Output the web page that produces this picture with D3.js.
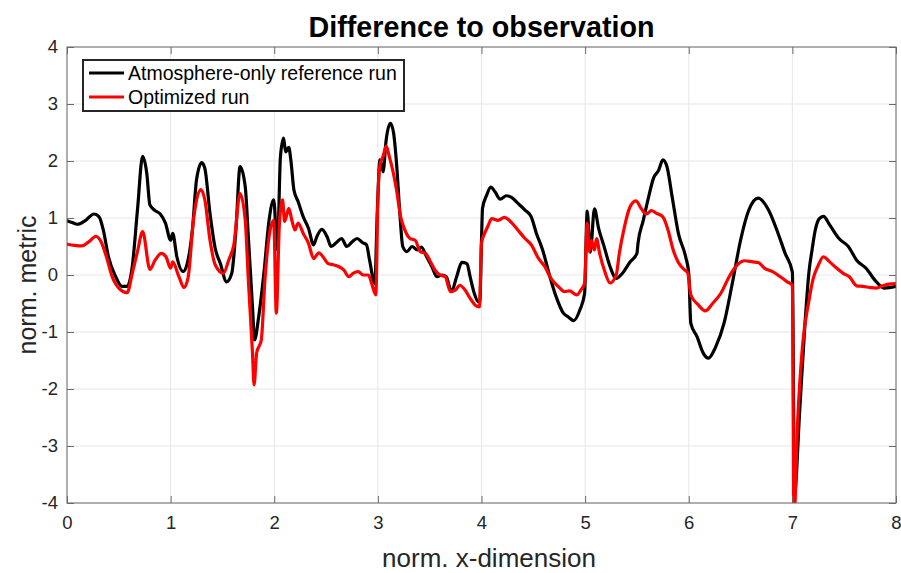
<!DOCTYPE html>
<html>
<head>
<meta charset="utf-8">
<script src="https://cdn.jsdelivr.net/npm/d3@7"></script>
<style>
  body { margin: 0; background: #fff; }
  svg { display: block; font-family: "Liberation Sans", Arial, Helvetica, sans-serif; }
</style>
</head>
<body>
<svg id="canvas"></svg>
<script>
// reference run (black)
let refX = [0.0, 0.05, 0.10, 0.18, 0.26, 0.31, 0.35, 0.40, 0.47, 0.53, 0.58, 0.63, 0.68, 0.73, 0.77, 0.80, 0.85, 0.90, 0.95,
  1.00, 1.02, 1.06, 1.12, 1.16, 1.21, 1.25, 1.30, 1.33, 1.38, 1.43, 1.48, 1.54, 1.59, 1.63, 1.67, 1.72, 1.75, 1.79, 1.81, 1.85, 1.90, 1.95, 1.995,
  2.03, 2.06, 2.09, 2.11, 2.14, 2.16, 2.19, 2.23, 2.28, 2.33, 2.38, 2.41, 2.46, 2.51, 2.55, 2.60, 2.65, 2.70, 2.75, 2.80, 2.85, 2.89, 2.92, 2.97, 2.995,
  3.02, 3.05, 3.08, 3.12, 3.15, 3.18, 3.21, 3.24, 3.28, 3.33, 3.38, 3.42, 3.47, 3.52, 3.57, 3.62, 3.66, 3.71, 3.76, 3.81, 3.86, 3.89, 3.93, 3.97, 3.985,
  4.00, 4.01, 4.05, 4.09, 4.13, 4.18, 4.24, 4.29, 4.35, 4.42, 4.48, 4.53, 4.59, 4.66, 4.72, 4.79, 4.84, 4.89, 4.95, 4.995,
  5.02, 5.05, 5.09, 5.13, 5.18, 5.24, 5.30, 5.36, 5.43, 5.50, 5.51, 5.56, 5.61, 5.66, 5.71, 5.75, 5.79, 5.84, 5.90, 5.97,
  6.00, 6.02, 6.08, 6.14, 6.19, 6.26, 6.34, 6.42, 6.50, 6.58, 6.67, 6.77, 6.85, 6.93,
  7.00, 7.02, 7.07, 7.12, 7.16, 7.19, 7.22, 7.26, 7.30, 7.36, 7.45, 7.54, 7.62, 7.71, 7.81, 7.89, 8.00]
let refY = [0.95, 0.92, 0.89, 0.96, 1.07, 1.02, 0.79, 0.32, -0.03, -0.20, -0.20, 0.15, 1.14, 2.08, 1.78, 1.23, 1.13, 1.07, 0.91,
  0.61, 0.73, 0.32, 0.06, 0.20, 0.79, 1.67, 1.97, 1.87, 1.08, 0.47, 0.20, -0.12, 0.03, 0.79, 1.90, 1.55, 0.67, -0.56, -1.14, -0.73, 0.03, 0.96, 1.32,
  0.44, 2.08, 2.40, 2.16, 2.24, 2.02, 1.49, 1.29, 1.02, 0.82, 0.53, 0.67, 0.80, 0.67, 0.50, 0.57, 0.64, 0.50, 0.58, 0.64, 0.57, 0.53, 0.26, -0.15, 1.14,
  2.02, 1.81, 2.37, 2.66, 2.51, 1.96, 1.14, 0.50, 0.41, 0.50, 0.44, 0.49, 0.32, 0.15, -0.03, 0.00, -0.03, -0.29, -0.03, 0.22, 0.20, -0.03, -0.32, -0.47, -0.45,
  0.60, 1.17, 1.40, 1.54, 1.46, 1.33, 1.39, 1.36, 1.26, 1.14, 1.02, 0.73, 0.44, -0.03, -0.38, -0.67, -0.74, -0.80, -0.61, -0.32,
  1.12, 0.40, 1.16, 0.82, 0.52, 0.15, -0.06, 0.03, 0.22, 0.38, 0.55, 0.95, 1.35, 1.70, 1.84, 2.02, 1.90, 1.37, 0.73, 0.32,
  0.03, -0.85, -1.08, -1.37, -1.46, -1.26, -0.85, -0.15, 0.61, 1.14, 1.35, 1.14, 0.79, 0.38,
  0.05, -3.85, -2.40, -0.90, 0.05, 0.44, 0.78, 0.99, 1.03, 0.88, 0.64, 0.50, 0.26, 0.12, -0.12, -0.23, -0.20]

// optimized run (red)
let optX = [0.0, 0.07, 0.145, 0.21, 0.28, 0.33, 0.39, 0.43, 0.50, 0.58, 0.63, 0.68, 0.73, 0.80, 0.85, 0.91, 0.955,
  1.00, 1.02, 1.08, 1.13, 1.17, 1.22, 1.29, 1.33, 1.38, 1.43, 1.51, 1.56, 1.61, 1.67, 1.72, 1.75, 1.79, 1.805, 1.83, 1.875, 1.91, 1.96, 1.995,
  2.02, 2.05, 2.08, 2.10, 2.14, 2.17, 2.20, 2.23, 2.28, 2.33, 2.38, 2.43, 2.47, 2.52, 2.57, 2.62, 2.67, 2.72, 2.76, 2.81, 2.86, 2.91, 2.94, 2.98,
  3.00, 3.02, 3.05, 3.08, 3.11, 3.15, 3.18, 3.22, 3.26, 3.31, 3.36, 3.41, 3.46, 3.50, 3.55, 3.60, 3.65, 3.70, 3.75, 3.79, 3.84, 3.89, 3.94, 3.98,
  4.00, 4.03, 4.06, 4.10, 4.16, 4.22, 4.29, 4.35, 4.42, 4.48, 4.55, 4.61, 4.67, 4.74, 4.80, 4.85, 4.92, 4.96, 4.995,
  5.02, 5.04, 5.06, 5.09, 5.11, 5.14, 5.19, 5.24, 5.30, 5.33, 5.38, 5.43, 5.49, 5.54, 5.59, 5.64, 5.69, 5.75, 5.80, 5.85, 5.90, 5.96, 5.99,
  6.02, 6.09, 6.16, 6.23, 6.31, 6.39, 6.47, 6.54, 6.62, 6.67, 6.73, 6.81, 6.89, 6.95,
  7.00, 7.015, 7.05, 7.10, 7.16, 7.20, 7.25, 7.30, 7.36, 7.42, 7.49, 7.55, 7.62, 7.68, 7.75, 7.81, 7.87, 7.93, 8.00]
let optY = [0.54, 0.52, 0.51, 0.58, 0.68, 0.58, 0.26, 0.00, -0.23, -0.31, 0.03, 0.41, 0.76, 0.10, 0.26, 0.38, 0.32,
  0.12, 0.23, -0.03, -0.22, -0.03, 0.96, 1.50, 1.32, 0.61, 0.18, 0.03, 0.26, 0.53, 1.43, 0.96, -0.09, -1.37, -1.93, -1.37, -1.14, -0.09, 0.79, 0.96,
  -0.67, 0.91, 1.32, 0.94, 1.17, 0.96, 0.79, 0.91, 0.73, 0.56, 0.29, 0.39, 0.32, 0.20, 0.18, 0.15, 0.09, -0.03, 0.03, 0.06, 0.00, 0.00, -0.15, -0.35,
  1.32, 1.93, 2.08, 2.26, 2.08, 1.78, 1.49, 1.02, 0.79, 0.64, 0.61, 0.41, 0.38, 0.26, 0.09, 0.00, -0.03, -0.29, -0.26, -0.18, -0.26, -0.41, -0.53, -0.56,
  0.56, 0.73, 0.85, 0.99, 0.96, 1.01, 0.92, 0.79, 0.64, 0.53, 0.29, 0.15, -0.06, -0.20, -0.29, -0.28, -0.35, -0.26, -0.15,
  0.91, 0.41, 0.61, 0.44, 0.64, 0.38, 0.06, -0.14, 0.00, 0.38, 0.85, 1.18, 1.30, 1.17, 1.07, 1.13, 1.08, 1.02, 0.79, 0.44, 0.22, 0.09, 0.04,
  -0.35, -0.52, -0.63, -0.50, -0.32, -0.03, 0.18, 0.25, 0.23, 0.22, 0.12, 0.06, -0.04, -0.12,
  -0.18, -4.30, -2.60, -1.20, -0.45, -0.07, 0.17, 0.32, 0.23, 0.13, 0.03, -0.03, -0.19, -0.20, -0.22, -0.23, -0.19, -0.16, -0.15]

let xTicks = [0, 1, 2, 3, 4, 5, 6, 7, 8]
let yTicks = [-4, -3, -2, -1, 0, 1, 2, 3, 4]
let seriesNames = ['Atmosphere-only reference run', 'Optimized run']
let seriesColors = ['#000000', '#ff0000']

let width = 901
let height = 573
let plotLeft = 67
let plotRight = 896
let plotTop = 47
let plotBottom = 503

let canvas = d3.select('#canvas')
canvas.attr('width', width).attr('height', height)

let xScale = d3.scaleLinear().domain([0, 8]).range([plotLeft, plotRight])
let yScale = d3.scaleLinear().domain([-4, 4]).range([plotBottom, plotTop])

let axisColor = '#6b6b6b'
let textColor = '#262626'

// plain hyphen minus, like the original tick labels
let tickText = d => String(d)

let drawGrid = () => {
    let grid = canvas.append('g').attr('class', 'grid')
    grid.selectAll('.gx').data(xTicks).enter().append('line')
        .attr('x1', d => xScale(d)).attr('x2', d => xScale(d))
        .attr('y1', plotTop).attr('y2', plotBottom)
        .attr('stroke', '#e6e6e6').attr('stroke-width', 1)
    grid.selectAll('.gy').data(yTicks).enter().append('line')
        .attr('y1', d => yScale(d)).attr('y2', d => yScale(d))
        .attr('x1', plotLeft).attr('x2', plotRight)
        .attr('stroke', '#e6e6e6').attr('stroke-width', 1)
}

let drawLines = () => {
    canvas.append('clipPath').attr('id', 'plot-clip')
        .append('rect')
        .attr('x', plotLeft).attr('y', plotTop)
        .attr('width', plotRight - plotLeft).attr('height', plotBottom - plotTop)

    let line = d3.line()
        .x(d => xScale(d[0]))
        .y(d => yScale(d[1]))
        .curve(d3.curveMonotoneX)

    let series = [
        d3.zip(refX, refY),
        d3.zip(optX, optY)
    ]

    canvas.append('g')
        .attr('clip-path', 'url(#plot-clip)')
        .selectAll('path')
        .data(series)
        .enter()
        .append('path')
        .attr('d', d => line(d))
        .attr('fill', 'none')
        .attr('stroke', (d, i) => seriesColors[i])
        .attr('stroke-width', 3.2)
        .attr('stroke-linejoin', 'round')
        .attr('stroke-linecap', 'round')
}

let drawAxes = () => {
    let xAxis = d3.axisBottom(xScale)
        .tickValues(xTicks)
        .tickFormat(tickText)
        .tickSizeInner(-7)
        .tickSizeOuter(0)
        .tickPadding(13)
    let yAxis = d3.axisLeft(yScale)
        .tickValues(yTicks)
        .tickFormat(tickText)
        .tickSizeInner(-7)
        .tickSizeOuter(0)
        .tickPadding(9)
    let xTop = d3.axisTop(xScale).tickValues(xTicks).tickFormat('').tickSizeInner(-7).tickSizeOuter(0)
    let yRight = d3.axisRight(yScale).tickValues(yTicks).tickFormat('').tickSizeInner(-7).tickSizeOuter(0)

    let gx = canvas.append('g')
        .attr('id', 'x-axis')
        .attr('transform', 'translate(0,' + plotBottom + ')')
        .call(xAxis)
    let gy = canvas.append('g')
        .attr('id', 'y-axis')
        .attr('transform', 'translate(' + plotLeft + ',0)')
        .call(yAxis)
    let gt = canvas.append('g')
        .attr('transform', 'translate(0,' + plotTop + ')')
        .call(xTop)
    let gr = canvas.append('g')
        .attr('transform', 'translate(' + plotRight + ',0)')
        .call(yRight)

    ;[gx, gy, gt, gr].forEach(g => {
        g.select('.domain').remove()
        g.selectAll('.tick line').attr('stroke', axisColor)
        g.selectAll('.tick text')
            .attr('fill', textColor)
            .style('font-size', '18.5px')
            .style('font-family', '"Liberation Sans", Arial, sans-serif')
    })

    canvas.append('rect')
        .attr('x', plotLeft).attr('y', plotTop)
        .attr('width', plotRight - plotLeft).attr('height', plotBottom - plotTop)
        .attr('fill', 'none')
        .attr('stroke', axisColor)
        .attr('stroke-width', 1)
}

let drawLabels = () => {
    canvas.append('text')
        .attr('x', (plotLeft + plotRight) / 2)
        .attr('y', 37)
        .attr('text-anchor', 'middle')
        .attr('font-weight', 'bold')
        .attr('font-size', 28.7)
        .attr('fill', '#000')
        .text('Difference to observation')

    canvas.append('text')
        .attr('x', 489)
        .attr('y', 567)
        .attr('text-anchor', 'middle')
        .attr('font-size', 26)
        .attr('fill', textColor)
        .text('norm. x-dimension')

    canvas.append('text')
        .attr('transform', 'translate(36,' + ((plotTop + plotBottom) / 2 + 10) + ') rotate(-90)')
        .attr('text-anchor', 'middle')
        .attr('font-size', 25)
        .attr('fill', textColor)
        .text('norm. metric')
}

let drawLegend = () => {
    let legend = canvas.append('g').attr('id', 'legend')
    legend.append('rect')
        .attr('x', 83).attr('y', 60)
        .attr('width', 321).attr('height', 51)
        .attr('fill', '#fff')
        .attr('stroke', textColor)
        .attr('stroke-width', 2)

    let rows = legend.selectAll('.row')
        .data(seriesNames)
        .enter()
        .append('g')
        .attr('transform', (d, i) => 'translate(0,' + (73 + i * 24) + ')')
    rows.append('line')
        .attr('x1', 89).attr('x2', 124)
        .attr('y1', 0).attr('y2', 0)
        .attr('stroke', (d, i) => seriesColors[i])
        .attr('stroke-width', 3.2)
    rows.append('text')
        .attr('x', 128)
        .attr('y', 7)
        .attr('font-size', 19.5)
        .attr('fill', '#000')
        .text(d => d)
}

drawGrid()
drawLines()
drawAxes()
drawLabels()
drawLegend()
</script>
</body>
</html>
